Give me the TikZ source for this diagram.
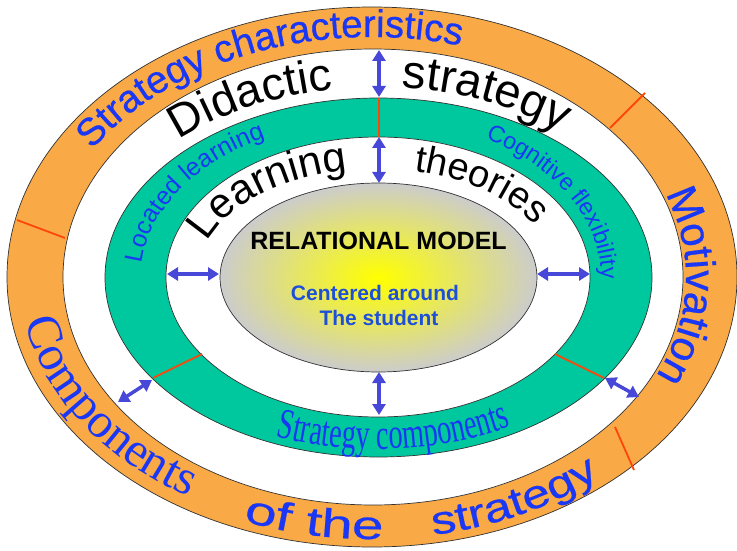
\documentclass[tikz,border=0pt]{standalone}
\usepackage{fontspec}
\setmainfont{Liberation Sans}
\newfontfamily\arialB[FakeBold=0.6]{Liberation Sans}
\newfontfamily\timesA{Liberation Serif}
\newfontfamily\timesN[FakeStretch=0.66]{Liberation Serif}
\newfontfamily\arialW[FakeStretch=1.25,FakeBold=0.5]{Liberation Sans}
\newfontfamily\arialWW[FakeStretch=1.42,FakeBold=0.5]{Liberation Sans}
\usetikzlibrary{decorations.text,arrows.meta,calc}
\definecolor{ringorange}{RGB}{249,169,70}
\definecolor{ringteal}{RGB}{0,200,158}
\definecolor{txtblue}{RGB}{25,55,245}
\definecolor{arrblue}{RGB}{72,72,216}
\definecolor{sepred}{RGB}{255,70,10}
\definecolor{stublue}{RGB}{30,80,215}
\definecolor{edgegray}{RGB}{50,50,50}
\newcommand\ringtext[7]{%
  \path[decorate,decoration={text along path,text color=#6,text={#7}}]
    ($(#1)+(#4:#2 and #3)$) arc[start angle=#4,end angle=#5,x radius=#2pt,y radius=#3pt];}
\tikzset{
  ringedge/.style={draw=edgegray,line width=0.7pt},
  sepline/.style={sepred,line width=1.8pt},
  dblarrow/.style={arrblue,line width=3.5pt,{Triangle[length=11pt,width=13pt]}-{Triangle[length=11pt,width=13pt]}}
}
\begin{document}
\begin{tikzpicture}[x=1pt,y=1pt]
\useasboundingbox (0,0) rectangle (737,550);
\fill[white] (0,0) rectangle (737,550);
\coordinate (oc) at (372,273);
\coordinate (oi) at (373,273);
\coordinate (to) at (378.5,272.5);
\coordinate (ti) at (378,273);
\coordinate (gc) at (378.5,272.5);
\coordinate (mc) at (377,273);
% rings
\path[ringedge,fill=ringorange] (oc) ellipse[x radius=365pt,y radius=270pt];
\path[ringedge,fill=white] (oi) ellipse[x radius=310pt,y radius=228pt];
\path[ringedge,fill=ringteal] (to) ellipse[x radius=273.5pt,y radius=179.5pt];
\path[ringedge,fill=white] (ti) ellipse[x radius=212pt,y radius=140pt];
\shade[inner color=yellow,outer color=gray!40] (gc) ellipse[x radius=158.5pt,y radius=94.5pt];
\path[ringedge] (gc) ellipse[x radius=158.5pt,y radius=94.5pt];
% separators
\coordinate (r1a) at (17,330); \coordinate (r1b) at (65,312);
\coordinate (r2a) at (645,457); \coordinate (r2b) at (610,422);
\coordinate (r3a) at (615,123); \coordinate (r3b) at (634,80);
\coordinate (r4a) at (379,452); \coordinate (r4b) at (379,413);
\coordinate (r5a) at (202,196); \coordinate (r5b) at (153,172);
\coordinate (r6a) at (555,196); \coordinate (r6b) at (604,172);
\draw[sepline] (r1a) -- (r1b);
\draw[sepline] (r2a) -- (r2b);
\draw[sepline] (r3a) -- (r3b);
\draw[sepline] (r4a) -- (r4b);
\draw[sepline] (r5a) -- (r5b);
\draw[sepline] (r6a) -- (r6b);
% arrows
\coordinate (a1a) at (379,500); \coordinate (a1b) at (379,453);
\coordinate (a2a) at (379,413); \coordinate (a2b) at (379,367);
\coordinate (a3a) at (167,276); \coordinate (a3b) at (219,276);
\coordinate (a4a) at (537,276); \coordinate (a4b) at (590,276);
\coordinate (a5a) at (379,178); \coordinate (a5b) at (379,135);
\coordinate (a6a) at (152,170); \coordinate (a6b) at (118,148);
\coordinate (a7a) at (605,172); \coordinate (a7b) at (639,153);
\draw[dblarrow] (a1a) -- (a1b);
\draw[dblarrow] (a2a) -- (a2b);
\draw[dblarrow] (a3a) -- (a3b);
\draw[dblarrow] (a4a) -- (a4b);
\draw[dblarrow] (a5a) -- (a5b);
\draw[dblarrow] (a6a) -- (a6b);
\draw[dblarrow] (a7a) -- (a7b);
% outer ring texts
\ringtext{oc}{330}{240}{148}{30}{txtblue}{|\arialB\fontsize{38.5}{40}\selectfont|Strategy characteristics}
\ringtext{oc}{314}{232}{21}{-70}{txtblue}{|\arialB\fontsize{42}{44}\selectfont|Motivation}
\ringtext{oc}{352}{258}{190}{290}{txtblue}{|\timesA\fontsize{49}{50}\selectfont|Components}
\ringtext{oc}{352}{262}{248.5}{300}{txtblue}{|\arialWW\fontsize{40}{42}\selectfont|of the}
\ringtext{oc}{352}{262}{280}{340}{txtblue}{|\arialW\fontsize{40}{42}\selectfont|strategy}
% white band texts
\ringtext{mc}{285}{190}{134}{60}{black}{|\fontsize{46}{48}\selectfont|Didactic}
\ringtext{mc}{285}{190}{85}{0}{black}{|\fontsize{47}{48}\selectfont|strategy}
\ringtext{mc}{180}{108}{161}{60}{black}{|\fontsize{42}{43}\selectfont|Learning}
\ringtext{mc}{180}{108}{78}{-20}{black}{|\fontsize{38}{40}\selectfont|theories}
% teal ring texts
\ringtext{mc}{236}{158}{175}{60}{txtblue}{|\fontsize{25}{26}\selectfont|Located learning}
\ringtext{mc}{224}{158}{61}{-60}{txtblue}{|\fontsize{23.5}{25}\selectfont|Cognitive flexibility}
\ringtext{mc}{270}{172}{-112}{-20}{txtblue}{|\timesN\fontsize{43}{44}\selectfont|Strategy components}
% centre
\node[anchor=base,inner sep=0pt] (rm) at (378.5,300) {\bfseries\fontsize{25}{28}\selectfont RELATIONAL MODEL};
\node[anchor=base,inner sep=0pt,text=stublue] (cs1) at (375,250) {\bfseries\fontsize{21}{24}\selectfont Centered around};
\node[anchor=base,inner sep=0pt,text=stublue] (cs2) at (379,225) {\bfseries\fontsize{21}{24}\selectfont The student};
\end{tikzpicture}
\end{document}
